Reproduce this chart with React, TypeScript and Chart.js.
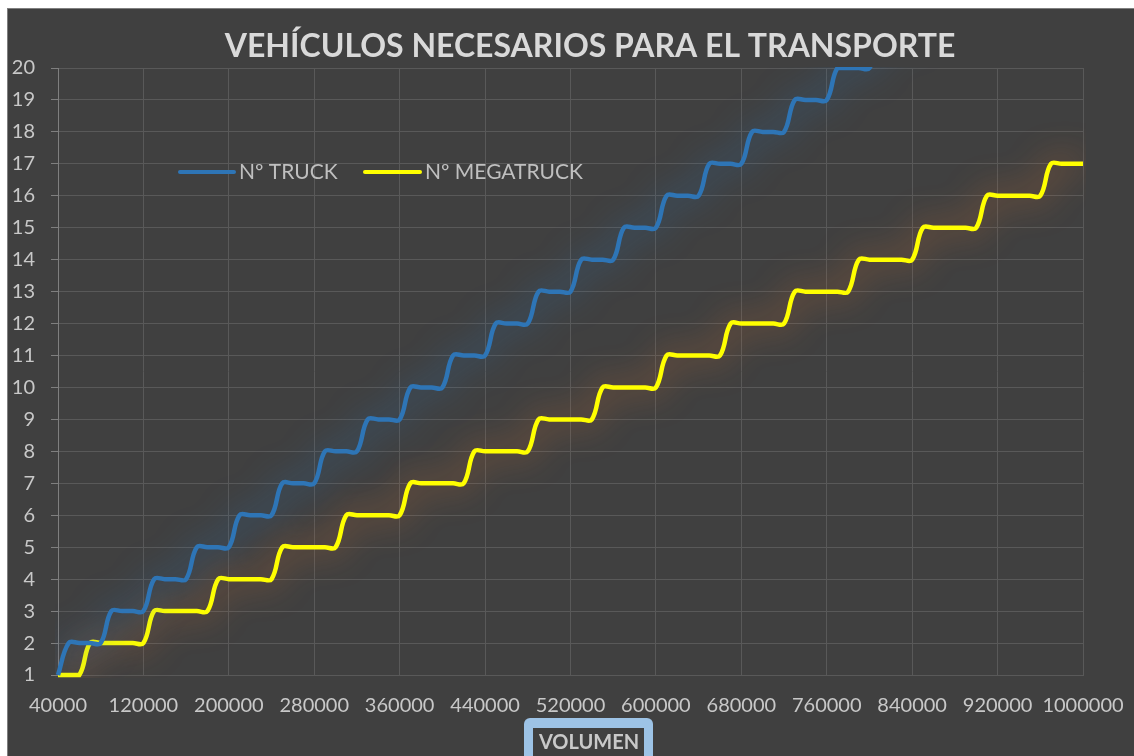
import React, { useEffect, useRef } from "react";
import { Chart, registerables } from "chart.js";

Chart.register(...registerables);

const TITLE = "VEHÍCULOS NECESARIOS PARA EL TRANSPORTE";
const X_TITLE = "VOLUMEN";
const SERIES_NAMES = ["Nº TRUCK", "Nº MEGATRUCK"];
const SERIES_COLORS = ["#2E75B6", "#FFFF00"];
const GLOW_COLORS = ["rgba(46,117,182,0.95)", "rgba(237,125,49,0.85)"];

const VOLUMEN_X = [
  40000, 50000, 60000, 70000, 80000, 90000, 100000, 110000, 120000, 130000,
  140000, 150000, 160000, 170000, 180000, 190000, 200000, 210000, 220000, 230000,
  240000, 250000, 260000, 270000, 280000, 290000, 300000, 310000, 320000, 330000,
  340000, 350000, 360000, 370000, 380000, 390000, 400000, 410000, 420000, 430000,
  440000, 450000, 460000, 470000, 480000, 490000, 500000, 510000, 520000, 530000,
  540000, 550000, 560000, 570000, 580000, 590000, 600000, 610000, 620000, 630000,
  640000, 650000, 660000, 670000, 680000, 690000, 700000, 710000, 720000, 730000,
  740000, 750000, 760000, 770000, 780000, 790000, 800000, 810000, 820000, 830000,
  840000, 850000, 860000, 870000, 880000, 890000, 900000, 910000, 920000, 930000,
  940000, 950000, 960000, 970000, 980000, 990000, 1000000,
];

const TRUCK = [
  1,
  2, 2, 2, 2,
  3, 3, 3, 3,
  4, 4, 4, 4,
  5, 5, 5, 5,
  6, 6, 6, 6,
  7, 7, 7, 7,
  8, 8, 8, 8,
  9, 9, 9, 9,
  10, 10, 10, 10,
  11, 11, 11, 11,
  12, 12, 12, 12,
  13, 13, 13, 13,
  14, 14, 14, 14,
  15, 15, 15, 15,
  16, 16, 16, 16,
  17, 17, 17, 17,
  18, 18, 18, 18,
  19, 19, 19, 19,
  20, 20, 20, 20,
  21, 21, 21, 21,
  22, 22, 22, 22,
  23, 23, 23, 23,
  24, 24, 24, 24,
  25, 25, 25, 25,
];

const MEGATRUCK = [
  1, 1, 1,
  2, 2, 2, 2, 2, 2,
  3, 3, 3, 3, 3, 3,
  4, 4, 4, 4, 4, 4,
  5, 5, 5, 5, 5, 5,
  6, 6, 6, 6, 6, 6,
  7, 7, 7, 7, 7, 7,
  8, 8, 8, 8, 8, 8,
  9, 9, 9, 9, 9, 9,
  10, 10, 10, 10, 10, 10,
  11, 11, 11, 11, 11, 11,
  12, 12, 12, 12, 12, 12,
  13, 13, 13, 13, 13, 13,
  14, 14, 14, 14, 14, 14,
  15, 15, 15, 15, 15, 15,
  16, 16, 16, 16, 16, 16,
  17, 17, 17, 17,
];

const X_TICKS = [
  40000, 120000, 200000, 280000, 360000, 440000, 520000, 600000, 680000,
  760000, 840000, 920000, 1000000,
];
const Y_MIN = 1;
const Y_MAX = 20;

const FONT = "Lato, 'Open Sans', sans-serif";

const W = 1170;
const H = 760;

const glowPlugin = {
  id: "glow",
  beforeDatasetDraw(chart: any, args: any) {
    const ctx = chart.ctx;
    ctx.save();
    ctx.shadowColor = GLOW_COLORS[args.index];
    ctx.shadowBlur = 34;
    ctx.shadowOffsetX = 0;
    ctx.shadowOffsetY = 0;
  },
  afterDatasetDraw(chart: any) {
    chart.ctx.restore();
  },
};

const decorPlugin = {
  id: "decor",
  afterDraw(chart: any) {
    const ctx = chart.ctx;
    ctx.save();
    // title
    ctx.fillStyle = "#d9d9d9";
    ctx.font = `bold 32px ${FONT}`;
    ctx.textAlign = "center";
    ctx.textBaseline = "alphabetic";
    ctx.fillText(TITLE, 582, 48);

    // legend
    const items = [
      { x0: 172, x1: 226, tx: 231 },
      { x0: 357, x1: 412, tx: 417 },
    ];
    ctx.font = `21px ${FONT}`;
    ctx.textAlign = "left";
    items.forEach((it, i) => {
      ctx.strokeStyle = SERIES_COLORS[i];
      ctx.lineWidth = 4;
      ctx.lineCap = "round";
      ctx.beginPath();
      ctx.moveTo(it.x0, 163);
      ctx.lineTo(it.x1, 163);
      ctx.stroke();
      ctx.fillStyle = "#bfbfbf";
      ctx.fillText(SERIES_NAMES[i], it.tx, 170);
    });

    // x axis title box
    ctx.fillStyle = "#9DC3E6";
    ctx.beginPath();
    (ctx as any).roundRect(516, 709, 129, 70, 6);
    ctx.fill();
    ctx.fillStyle = "#404040";
    ctx.fillRect(525, 719, 111, 60);
    ctx.fillStyle = "#c9c9c9";
    ctx.font = `bold 20px ${FONT}`;
    ctx.textAlign = "center";
    ctx.fillText(X_TITLE, 581, 740);
    ctx.restore();
  },
};

export default function App() {
  const ref = useRef<HTMLCanvasElement | null>(null);

  useEffect(() => {
    if (!ref.current) return;
    const chart = new Chart(ref.current, {
      type: "line",
      data: {
        datasets: [
          {
            label: SERIES_NAMES[0],
            data: VOLUMEN_X.map((x, i) => ({ x, y: TRUCK[i] })),
            borderColor: SERIES_COLORS[0],
            backgroundColor: SERIES_COLORS[0],
            borderWidth: 4.5,
            pointRadius: 0,
            tension: 0.4,
            fill: false,
            clip: { left: 3, top: 1, right: 3, bottom: 3 } as any,
          },
          {
            label: SERIES_NAMES[1],
            data: VOLUMEN_X.map((x, i) => ({ x, y: MEGATRUCK[i] })),
            borderColor: SERIES_COLORS[1],
            backgroundColor: SERIES_COLORS[1],
            borderWidth: 4.5,
            pointRadius: 0,
            tension: 0.4,
            fill: false,
            clip: { left: 3, top: 1, right: 3, bottom: 3 } as any,
          },
        ],
      },
      options: {
        responsive: false,
        animation: false,
        layout: { padding: { left: 0, right: 95, top: 59, bottom: 0 } },
        plugins: {
          legend: { display: false },
          tooltip: { enabled: false },
          title: { display: false },
        },
        scales: {
          x: {
            type: "linear",
            min: 40000,
            max: 1000000,
            afterBuildTicks(scale: any) {
              scale.ticks = X_TICKS.map((v) => ({ value: v }));
            },
            afterFit(scale: any) {
              scale.height = 94;
            },
            grid: {
              color: "#595959",
              lineWidth: 1,
              drawTicks: false,
            },
            border: { color: "#595959", width: 1 },
            ticks: {
              autoSkip: false,
              maxRotation: 0,
              padding: 19,
              color: "#c8c8c8",
              font: { family: FONT, size: 20 },
              callback: (v: any) => String(v),
            },
          },
          y: {
            type: "linear",
            min: Y_MIN,
            max: Y_MAX,
            afterFit(scale: any) {
              scale.width = 50;
            },
            grid: {
              color: "#595959",
              lineWidth: 1,
              drawTicks: true,
              tickLength: 7,
              tickColor: "#7f7f7f",
            },
            border: { color: "#7f7f7f", width: 1 },
            ticks: {
              stepSize: 1,
              padding: 16,
              color: "#c8c8c8",
              font: { family: FONT, size: 20 },
            },
          },
        },
      },
      plugins: [glowPlugin, decorPlugin],
    });
    return () => chart.destroy();
  }, []);

  return (
    <div
      style={{
        position: "fixed",
        inset: 0,
        overflow: "hidden",
        background: "#ffffff",
      }}
    >
      <div
        style={{
          position: "absolute",
          left: 7,
          top: 8,
          width: W,
          height: H,
          background: "#404040",
          border: "1px solid #7f7f7f",
        }}
      >
        <canvas ref={ref} width={W} height={H} style={{ display: "block" }} />
      </div>
    </div>
  );
}
